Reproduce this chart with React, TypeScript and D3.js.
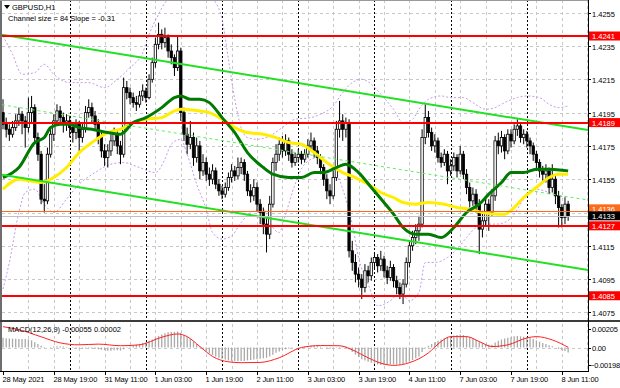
import React, { useEffect, useRef } from "react";
import * as d3 from "d3";

const W = 620;
const H = 388;

const symbolTitle = "GBPUSD,H1";
const channelText = "Channel size = 84 Slope = -0.31";
const macdText = "MACD(12,26,9) -0.00055 0.00002";

// H1 candles, open = previous close
const firstOpen = 1.4195;
const closes = [
  1.4188, 1.4185, 1.4182, 1.4186, 1.419, 1.4194, 1.419, 1.4186, 1.4195, 1.4198,
  1.418, 1.417, 1.4143, 1.4142, 1.417, 1.4182, 1.419, 1.4196, 1.4192, 1.4188,
  1.419, 1.4186, 1.4183, 1.4188, 1.418, 1.4185, 1.4195, 1.4198, 1.4193, 1.4188,
  1.418, 1.4172, 1.4168, 1.4172, 1.4178, 1.4182, 1.4175, 1.417, 1.421, 1.4207,
  1.4204, 1.4201, 1.42, 1.4205, 1.4208, 1.4204, 1.4215, 1.4225, 1.4236, 1.4242,
  1.4237, 1.424, 1.4232, 1.4228, 1.4222, 1.4232, 1.4195, 1.4182, 1.4176, 1.418,
  1.4168, 1.4175, 1.416, 1.4165, 1.4158, 1.4155, 1.416, 1.4152, 1.4148, 1.4146,
  1.415, 1.4156, 1.416, 1.4157, 1.4162, 1.4165, 1.4158, 1.4148, 1.4145, 1.415,
  1.414, 1.4135, 1.4128, 1.4122, 1.414, 1.4165, 1.417, 1.4176, 1.4172, 1.4178,
  1.417, 1.4165, 1.4168, 1.417, 1.4167, 1.417, 1.4175, 1.4178, 1.4172, 1.4168,
  1.4162, 1.4155, 1.4148, 1.4145, 1.4156, 1.4185, 1.419, 1.4185, 1.4189, 1.4112,
  1.4105, 1.4098, 1.4095, 1.409, 1.41, 1.4097, 1.4105, 1.4108, 1.4103, 1.4107,
  1.41, 1.4096, 1.4102, 1.4094, 1.409, 1.4086, 1.4092, 1.4105, 1.4115, 1.412,
  1.4124, 1.4128, 1.418, 1.4192, 1.4183, 1.4175, 1.4178, 1.4168, 1.4165, 1.417,
  1.416, 1.4163, 1.4168, 1.416, 1.417, 1.4158, 1.415, 1.4142, 1.4146, 1.414,
  1.4125, 1.413, 1.414, 1.4135, 1.4145, 1.4178, 1.4175, 1.418, 1.4172, 1.4182,
  1.4178, 1.4185, 1.4187, 1.418, 1.4182, 1.4178, 1.4175, 1.417, 1.4165, 1.416,
  1.4158, 1.416, 1.415, 1.4155, 1.4145, 1.4138, 1.4132, 1.414, 1.4133,
];
const highs = [
  1.4203, 1.4192, 1.4188, 1.419, 1.4194, 1.4198, 1.4196, 1.4193, 1.4204, 1.4205,
  1.42, 1.4183, 1.4172, 1.4152, 1.4174, 1.4186, 1.4194, 1.42, 1.4199, 1.4195,
  1.4194, 1.4193, 1.4189, 1.4191, 1.419, 1.4189, 1.4199, 1.4203, 1.4201, 1.4196,
  1.4191, 1.4183, 1.4176, 1.4176, 1.4182, 1.4186, 1.4185, 1.4178, 1.4216, 1.4214,
  1.421, 1.4207, 1.4205, 1.4208, 1.4212, 1.421, 1.4218, 1.4228, 1.424, 1.4249,
  1.4245, 1.4246, 1.4242, 1.4236, 1.423, 1.4241, 1.4234, 1.4198, 1.4186, 1.419,
  1.4183, 1.418, 1.4178, 1.417, 1.4168, 1.4162, 1.4164, 1.4162, 1.4155, 1.4151,
  1.4153, 1.4159, 1.4164, 1.4163, 1.4168, 1.4168, 1.4167, 1.416, 1.4152, 1.4155,
  1.4153, 1.4143, 1.4138, 1.4132, 1.4145, 1.4168, 1.4176, 1.418, 1.4181, 1.4182,
  1.418, 1.4173, 1.4171, 1.4173, 1.4172, 1.4173, 1.4179, 1.4183, 1.418, 1.4175,
  1.417, 1.4164, 1.4158, 1.4152, 1.416, 1.419, 1.4202, 1.4194, 1.4192, 1.4191,
  1.4118, 1.411, 1.4102, 1.4098, 1.4104, 1.4103, 1.4108, 1.4111, 1.411, 1.4112,
  1.4109, 1.4103, 1.4106, 1.4104, 1.4097, 1.4093, 1.4095, 1.4108, 1.4118, 1.4124,
  1.4128, 1.4133, 1.4185, 1.42, 1.4196, 1.4186, 1.4182, 1.418, 1.4171, 1.4173,
  1.4172, 1.4167, 1.4171, 1.417, 1.4175, 1.4172, 1.4161, 1.4153, 1.415, 1.4149,
  1.4143, 1.4136, 1.4144, 1.4143, 1.4149, 1.4181, 1.4183, 1.4184, 1.4182, 1.4185,
  1.4185, 1.4188, 1.4191, 1.4189, 1.4185, 1.4184, 1.418, 1.4177, 1.4172, 1.4167,
  1.4163, 1.4164, 1.4162, 1.4164, 1.4158, 1.4148, 1.414, 1.4144, 1.4142,
];
const lows = [
  1.4185, 1.418, 1.4178, 1.418, 1.4184, 1.4187, 1.4182, 1.4174, 1.4183, 1.4189,
  1.4176, 1.4166, 1.414, 1.4135, 1.414, 1.4168, 1.4178, 1.4187, 1.4188, 1.4183,
  1.4184, 1.418, 1.4177, 1.4179, 1.4172, 1.4177, 1.4183, 1.4192, 1.4189, 1.4184,
  1.4176, 1.4168, 1.4163, 1.4162, 1.4169, 1.4175, 1.417, 1.4164, 1.4168, 1.4203,
  1.42, 1.4198, 1.4196, 1.4198, 1.4202, 1.4201, 1.4203, 1.4213, 1.4222, 1.4233,
  1.4233, 1.4234, 1.4228, 1.4224, 1.4217, 1.422, 1.419, 1.4178, 1.417, 1.4173,
  1.4163, 1.4165, 1.4155, 1.4157, 1.4154, 1.4151, 1.4152, 1.4149, 1.4145, 1.4143,
  1.4144, 1.4148, 1.4153, 1.4154, 1.4155, 1.4158, 1.4154, 1.4145, 1.4141, 1.4142,
  1.4136, 1.4128, 1.4122, 1.4111, 1.4119, 1.4138, 1.416, 1.4166, 1.4168, 1.4169,
  1.4166, 1.4162, 1.4163, 1.4165, 1.4164, 1.4165, 1.4168, 1.4172, 1.4168, 1.4164,
  1.4158, 1.4151, 1.4143, 1.414, 1.4143, 1.4154, 1.418, 1.4178, 1.418, 1.4108,
  1.41, 1.4093, 1.409, 1.4083, 1.4087, 1.4093, 1.4094, 1.4101, 1.4099, 1.41,
  1.4096, 1.4092, 1.4094, 1.409, 1.4086, 1.4083, 1.408, 1.409, 1.4102, 1.4112,
  1.4116, 1.4118, 1.4126, 1.4176, 1.418, 1.4172, 1.4171, 1.4165, 1.4162, 1.4163,
  1.4152, 1.4157, 1.416, 1.4156, 1.4158, 1.4155, 1.4146, 1.4138, 1.4139, 1.4135,
  1.411, 1.412, 1.4127, 1.4124, 1.4133, 1.4142, 1.417, 1.4171, 1.4167, 1.417,
  1.4174, 1.4176, 1.4181, 1.4177, 1.4176, 1.4174, 1.417, 1.4166, 1.416, 1.4156,
  1.4154, 1.4153, 1.4146, 1.4147, 1.414, 1.4126, 1.4126, 1.4128, 1.413,
];

// moving averages, read as [bar, price]
const greenMa = [
  [0, 1.4156], [5, 1.4162], [10, 1.4177], [13, 1.418], [15, 1.4186], [18, 1.4188],
  [21, 1.4188], [24, 1.4186], [28, 1.4185], [33, 1.4183], [37, 1.4182], [41, 1.4189],
  [45, 1.4192], [50, 1.4198], [54, 1.4204], [56, 1.4205], [59, 1.4203], [62, 1.4203],
  [65, 1.4201], [69, 1.4192], [73, 1.4183], [77, 1.4171], [82, 1.4162], [85, 1.4158],
  [90, 1.4156], [94, 1.4156], [98, 1.4159], [101, 1.4159], [105, 1.4162], [108, 1.4164],
  [112, 1.4159], [116, 1.415], [120, 1.4141], [123, 1.4134], [126, 1.4126], [130, 1.4122],
  [134, 1.4122], [138, 1.412], [142, 1.4126], [146, 1.4135], [150, 1.414], [153, 1.4146],
  [157, 1.4153], [160, 1.4159], [164, 1.4159], [168, 1.4161], [172, 1.4161], [178, 1.416],
];
const yellowMa = [
  [0, 1.4149], [5, 1.4155], [12, 1.4153], [16, 1.4156], [20, 1.4162], [24, 1.4171],
  [28, 1.4177], [33, 1.4183], [37, 1.4185], [41, 1.4189], [45, 1.4191], [50, 1.4192],
  [54, 1.4196], [56, 1.4197], [62, 1.4196], [65, 1.4195], [69, 1.4191], [73, 1.4186],
  [77, 1.4183], [82, 1.4182], [86, 1.418], [90, 1.4177], [94, 1.4176], [98, 1.4171],
  [102, 1.4165], [107, 1.4159], [111, 1.4156], [115, 1.4152], [119, 1.4147], [123, 1.4144],
  [126, 1.4141], [130, 1.414], [134, 1.4141], [139, 1.414], [143, 1.4138], [147, 1.4137],
  [151, 1.4135], [156, 1.4134], [158, 1.4134], [161, 1.4138], [164, 1.4144], [168, 1.415],
  [172, 1.4156], [175, 1.4158], [178, 1.4158],
];

// envelope bands (dotted), [bar, price]
const upperBand = [
  [0, 1.4241], [3, 1.423], [6, 1.4218], [10, 1.4219], [13, 1.4224], [16, 1.4218],
  [21, 1.4213], [27, 1.4213], [32, 1.421], [36, 1.4215], [40, 1.4222], [44, 1.4231],
  [46, 1.4242], [49, 1.4254], [51, 1.4261], [55, 1.4266], [59, 1.4267], [64, 1.4266],
  [67, 1.4261], [69, 1.4251], [71, 1.4227], [73, 1.4203], [75, 1.4186], [77, 1.418],
  [80, 1.4179], [84, 1.4181], [88, 1.4186], [92, 1.4191], [97, 1.4192], [100, 1.4194],
  [104, 1.4199], [107, 1.4207], [110, 1.4213], [113, 1.4215], [116, 1.4212], [119, 1.4206],
  [123, 1.4197], [126, 1.4189], [129, 1.4191], [131, 1.4197], [134, 1.4203], [138, 1.4205],
  [141, 1.4204], [145, 1.4204], [148, 1.4201], [152, 1.4197], [155, 1.4198], [158, 1.4201],
  [162, 1.4204], [165, 1.4205], [169, 1.4204], [172, 1.42], [175, 1.4198], [178, 1.4199],
];
const lowerBand = [
  [0, 1.4089], [2, 1.4105], [5, 1.4135], [7, 1.4147], [10, 1.4149], [13, 1.414],
  [16, 1.4135], [20, 1.4143], [24, 1.4152], [29, 1.4159], [34, 1.4164], [38, 1.4165],
  [43, 1.4162], [48, 1.4159], [51, 1.4167], [53, 1.4176], [56, 1.4179], [58, 1.417],
  [61, 1.4152], [64, 1.4137], [66, 1.4123], [69, 1.4119], [72, 1.4121], [75, 1.4129],
  [78, 1.4135], [82, 1.4137], [84, 1.4129], [87, 1.4123], [89, 1.4134], [92, 1.4152],
  [95, 1.4164], [99, 1.4168], [102, 1.4165], [105, 1.4159], [107, 1.4149], [110, 1.4128],
  [112, 1.4108], [115, 1.4092], [118, 1.4079], [122, 1.4082], [125, 1.4087], [128, 1.4082],
  [131, 1.4087], [133, 1.4105], [136, 1.4105], [140, 1.4108], [143, 1.4113], [146, 1.412],
  [149, 1.4126], [152, 1.4128], [155, 1.4128], [158, 1.4129], [161, 1.4134], [164, 1.4143],
  [168, 1.4149], [172, 1.4147], [175, 1.4145], [178, 1.4144],
];

// MACD main (histogram) and signal, in 0.00001
const macdHist = [
  110, 105, 100, 100, 98, 95, 95, 95, 90, 80, 60, 40, 20, 5, 0, 5, 10, 15, 15, 10,
  5, 0, -5, -10, -10, -12, -10, -8, -10, -15, -20, -25, -30, -35, -35, -30, -30, -35, -20, -5,
  10, 20, 30, 40, 50, 60, 75, 90, 110, 130, 145, 160, 170, 175, 175, 180, 165, 140, 115, 95,
  70, 40, 10, -20, -45, -65, -85, -100, -115, -125, -135, -145, -150, -155, -155, -150, -150, -145, -140, -135,
  -130, -125, -120, -115, -100, -80, -60, -45, -30, -20, -10, -5, 0, 5, 5, 10, 15, 20, 20, 15,
  10, 0, -10, -15, -10, 5, 10, 10, 10, -20, -50, -80, -105, -130, -145, -160, -170, -180, -190, -195,
  -195, -195, -190, -190, -190, -190, -185, -170, -155, -140, -120, -100, -50, -10, 20, 40, 60, 75, 90, 105,
  115, 125, 135, 140, 145, 140, 130, 115, 100, 85, 65, 50, 40, 30, 30, 55, 75, 90, 100, 110,
  115, 125, 130, 125, 120, 115, 105, 95, 80, 65, 50, 40, 25, 15, 0, -15, -30, -40, -55,
];
const macdSignal = [
  [0, 233], [5, 200], [12, 120], [18, 52], [24, 30], [30, 38], [37, 20], [43, 30],
  [50, 115], [55, 152], [58, 122], [62, 11], [66, -100], [71, -160], [75, -170], [81, -167],
  [87, -115], [94, 0], [100, 22], [106, 20], [110, -26], [115, -115], [119, -175], [123, -200],
  [128, -170], [134, -60], [138, 67], [141, 122], [146, 122], [150, 67], [154, 11], [159, 30],
  [165, 107], [168, 122], [173, 85], [178, 2],
];

// horizontal levels
const redLevels = [1.4241, 1.4189, 1.4127, 1.4085];
const stopLevel = 1.4136;
const bidLevel = 1.4133;
const gridLevels = [1.4255, 1.4235, 1.4215, 1.4195, 1.4175, 1.4155, 1.4135, 1.4115, 1.4095, 1.4075];
const priceLabels = [1.4255, 1.4235, 1.4215, 1.4195, 1.4175, 1.4155, 1.4115, 1.4095, 1.4075];
const macdLabels = [205, 0, -198];

// regression channel
const channelStart = 1.42416;
const channelSlope = -0.31; // pips per bar
const channelSize = 84; // pips

const timeBars = [0, 16, 32, 48, 64, 80, 96, 112, 128, 144, 160, 176];
const timeLabels = [
  "28 May 2021", "28 May 19:00", "31 May 11:00", "1 Jun 03:00", "1 Jun 19:00", "2 Jun 11:00",
  "3 Jun 03:00", "3 Jun 19:00", "4 Jun 11:00", "7 Jun 03:00", "7 Jun 19:00", "8 Jun 11:00",
];
const daySeparators = [21, 45, 69, 93, 117, 141, 165];

const FONT = "'Liberation Sans', Arial, sans-serif";

const App = () => {
  const ref = useRef<SVGSVGElement>(null);

  useEffect(() => {
    const svg = d3.select(ref.current);
    svg.selectAll("*").remove();

    const crisp = (v: number) => Math.round(v) + 0.5;

    const x = d3.scaleLinear().domain([0, 184]).range([3, 587.2]);
    const y = d3.scaleLinear().domain([1.4255, 1.4075]).range([12.7, 312.4]);
    const ym = d3.scaleLinear().domain([205, -198]).range([329.2, 365.2]);

    const plotL = 2;
    const plotR = 588;
    const mainB = 320;
    const subT = 322;
    const subB = 371;

    svg.append("rect").attr("width", W).attr("height", H).attr("fill", "#fff");

    const defs = svg.append("defs");
    defs.append("clipPath").attr("id", "clip-main")
      .append("rect").attr("x", plotL).attr("y", 1).attr("width", plotR - plotL).attr("height", mainB - 1);
    defs.append("clipPath").attr("id", "clip-sub")
      .append("rect").attr("x", plotL).attr("y", subT).attr("width", plotR - plotL).attr("height", subB - subT);

    const main = svg.append("g").attr("clip-path", "url(#clip-main)");
    const sub = svg.append("g").attr("clip-path", "url(#clip-sub)");

    // grid
    gridLevels.forEach((p) => {
      main.append("line")
        .attr("x1", plotL).attr("x2", plotR)
        .attr("y1", crisp(y(p))).attr("y2", crisp(y(p)))
        .attr("stroke", "#c8c8c8").attr("stroke-dasharray", "3,3");
    });
    sub.append("line")
      .attr("x1", plotL).attr("x2", plotR)
      .attr("y1", crisp(ym(0))).attr("y2", crisp(ym(0)))
      .attr("stroke", "#c8c8c8").attr("stroke-dasharray", "3,3");

    d3.range(8, 185, 8).forEach((b) => {
      [main, sub].forEach((g) => {
        g.append("line")
          .attr("x1", crisp(x(b))).attr("x2", crisp(x(b)))
          .attr("y1", 0).attr("y2", subB)
          .attr("stroke", "#c8c8c8").attr("stroke-dasharray", "3,3");
      });
    });
    daySeparators.forEach((b) => {
      [main, sub].forEach((g) => {
        g.append("line")
          .attr("x1", crisp(x(b))).attr("x2", crisp(x(b)))
          .attr("y1", 0).attr("y2", subB)
          .attr("stroke", "#000").attr("stroke-dasharray", "2,2");
      });
    });

    // envelope bands
    const bandLine = d3.line<number[]>()
      .x((d) => x(d[0])).y((d) => y(d[1]))
      .curve(d3.curveMonotoneX);
    [upperBand, lowerBand].forEach((band) => {
      main.append("path")
        .attr("d", bandLine(band))
        .attr("fill", "none")
        .attr("stroke", "#c49ae8")
        .attr("stroke-width", 1)
        .attr("stroke-dasharray", "2,2");
    });

    // candles
    closes.forEach((c, i) => {
      const o = i === 0 ? firstOpen : closes[i - 1];
      const hi = Math.max(highs[i], o, c);
      const lo = Math.min(lows[i], o, c);
      const cx = x(i);
      main.append("line")
        .attr("x1", cx).attr("x2", cx)
        .attr("y1", y(hi)).attr("y2", y(lo))
        .attr("stroke", "#000").attr("stroke-width", 1);
      const top = y(Math.max(o, c));
      const h = Math.max(1, Math.abs(y(o) - y(c)));
      main.append("rect")
        .attr("x", cx - 1.2).attr("y", top)
        .attr("width", 2.4).attr("height", h)
        .attr("fill", c >= o ? "#fff" : "#000")
        .attr("stroke", "#000").attr("stroke-width", 0.8);
    });

    // moving averages
    const maLine = d3.line<number[]>()
      .x((d) => x(d[0])).y((d) => y(d[1]))
      .curve(d3.curveMonotoneX);
    main.append("path").attr("d", maLine(yellowMa))
      .attr("fill", "none").attr("stroke", "#ffee00").attr("stroke-width", 3);
    main.append("path").attr("d", maLine(greenMa))
      .attr("fill", "none").attr("stroke", "#007a00").attr("stroke-width", 3);

    // regression channel
    const b0 = x.invert(plotL);
    const b1 = x.invert(plotR);
    const chan = (b: number, off: number) => channelStart + (channelSlope * b - off) * 0.0001;
    [[0, "#22e022", 2, null], [channelSize / 2, "#5ef05e", 1, "3,3"], [channelSize, "#22e022", 2, null]]
      .forEach(([off, col, w, dash]) => {
        const l = main.append("line")
          .attr("x1", x(b0)).attr("y1", y(chan(b0, off as number)))
          .attr("x2", x(b1)).attr("y2", y(chan(b1, off as number)))
          .attr("stroke", col as string).attr("stroke-width", w as number);
        if (dash) l.attr("stroke-dasharray", dash as string);
      });

    // horizontal levels
    main.append("line")
      .attr("x1", plotL).attr("x2", plotR)
      .attr("y1", crisp(y(bidLevel))).attr("y2", crisp(y(bidLevel)))
      .attr("stroke", "#c0c0c0");
    main.append("line")
      .attr("x1", plotL).attr("x2", plotR)
      .attr("y1", crisp(y(stopLevel))).attr("y2", crisp(y(stopLevel)))
      .attr("stroke", "#ff6a1a");
    redLevels.forEach((p) => {
      main.append("line")
        .attr("x1", plotL).attr("x2", plotR)
        .attr("y1", Math.round(y(p))).attr("y2", Math.round(y(p)))
        .attr("stroke", "#ff0000").attr("stroke-width", 2);
    });

    // MACD
    macdHist.forEach((v, i) => {
      sub.append("line")
        .attr("x1", x(i)).attr("x2", x(i))
        .attr("y1", ym(0)).attr("y2", ym(v))
        .attr("stroke", "#a9a9a9").attr("stroke-width", 1.3);
    });
    const sigLine = d3.line<number[]>()
      .x((d) => x(d[0])).y((d) => ym(d[1]))
      .curve(d3.curveMonotoneX);
    sub.append("path").attr("d", sigLine(macdSignal))
      .attr("fill", "none").attr("stroke", "#ff2020").attr("stroke-width", 1);

    // frames
    svg.append("line").attr("x1", 1).attr("x2", 1).attr("y1", 0).attr("y2", subB)
      .attr("stroke", "#6e6e6e").attr("stroke-width", 2);
    svg.append("line").attr("x1", 0).attr("x2", plotR).attr("y1", 0.5).attr("y2", 0.5)
      .attr("stroke", "#9a9a9a");
    svg.append("line").attr("x1", 0).attr("x2", W).attr("y1", 321).attr("y2", 321)
      .attr("stroke", "#3c3c3c").attr("stroke-width", 2);
    svg.append("line").attr("x1", 0).attr("x2", plotR + 0.5).attr("y1", subB + 0.5).attr("y2", subB + 0.5)
      .attr("stroke", "#000");
    svg.append("line").attr("x1", plotR + 0.5).attr("x2", plotR + 0.5).attr("y1", 0).attr("y2", subB + 1)
      .attr("stroke", "#000");

    // price axis
    const axis = svg.append("g")
      .style("font-family", FONT).style("font-size", "7.5px");
    priceLabels.forEach((p) => {
      const yy = crisp(y(p));
      axis.append("line").attr("x1", plotR).attr("x2", plotR + 3).attr("y1", yy).attr("y2", yy).attr("stroke", "#000");
      axis.append("text").attr("x", 592).attr("y", yy + 3).attr("fill", "#000").text(d3.format(".4f")(p));
    });
    const tag = (p: number, col: string, shift: number) => {
      const yy = y(p) + shift;
      axis.append("rect").attr("x", plotR + 1).attr("y", yy - 4.5).attr("width", W - plotR - 1).attr("height", 9).attr("fill", col);
      axis.append("text").attr("x", 592).attr("y", yy + 3).attr("fill", "#fff").text(d3.format(".4f")(p));
    };
    redLevels.forEach((p) => tag(p, "#ff0000", 0));
    tag(stopLevel, "#ff6a1a", -2);
    tag(bidLevel, "#000", 0);

    macdLabels.forEach((v) => {
      const yy = ym(v);
      axis.append("line").attr("x1", plotR).attr("x2", plotR + 3).attr("y1", crisp(yy)).attr("y2", crisp(yy)).attr("stroke", "#000");
      axis.append("text").attr("x", v < 0 ? 590 : 592).attr("y", yy + 3).attr("fill", "#000")
        .style("letter-spacing", "-0.2px")
        .text(v === 0 ? "0.00" : d3.format(".5f")(v / 100000));
    });

    // time axis
    timeBars.forEach((b, k) => {
      const xx = crisp(x(b));
      axis.append("line").attr("x1", xx).attr("x2", xx).attr("y1", subB).attr("y2", subB + 4).attr("stroke", "#000");
      axis.append("text").attr("x", xx - 1).attr("y", 382).attr("fill", "#000")
        .style("letter-spacing", "-0.15px").text(timeLabels[k]);
    });

    // captions
    const cap = svg.append("g").style("font-family", FONT).style("font-size", "7.5px").attr("fill", "#000");
    cap.append("path").attr("d", "M4,5 L10,5 L7,9 Z").attr("fill", "#000");
    cap.append("text").attr("x", 12).attr("y", 10).text(symbolTitle);
    cap.append("text").attr("x", 8).attr("y", 21).text(channelText);
    cap.append("text").attr("x", 8).attr("y", 331.5).text(macdText);
  }, []);

  return (
    <svg
      ref={ref}
      width={W}
      height={H}
      style={{ position: "absolute", left: 0, top: 0, display: "block" }}
    />
  );
};

export default App;
